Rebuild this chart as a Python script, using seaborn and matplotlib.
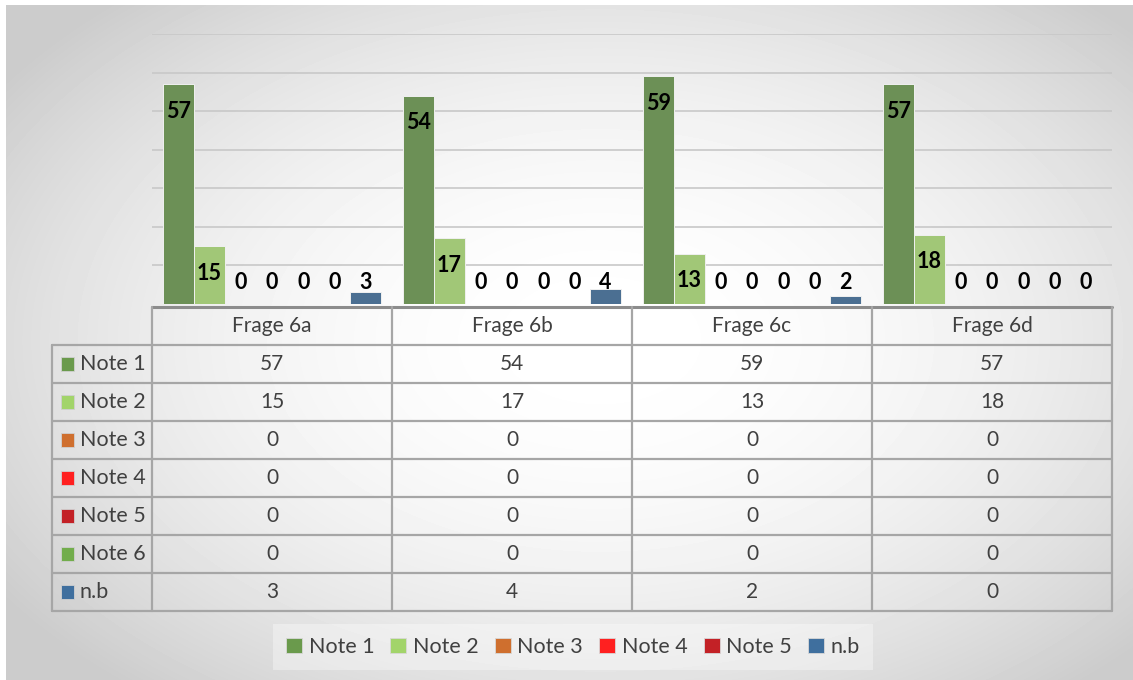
import numpy as np
import pandas as pd
import matplotlib.pyplot as plt
import seaborn as sns
from matplotlib.patches import Patch, Rectangle

questions = ['Frage 6a', 'Frage 6b', 'Frage 6c', 'Frage 6d']
series = ['Note 1', 'Note 2', 'Note 3', 'Note 4', 'Note 5', 'Note 6', 'n.b']
note1 = [57, 54, 59, 57]
note2 = [15, 17, 13, 18]
note3 = [0, 0, 0, 0]
note4 = [0, 0, 0, 0]
note5 = [0, 0, 0, 0]
note6 = [0, 0, 0, 0]
nb = [3, 4, 2, 0]
colors = ['#6a9a4c', '#a2d46a', '#cf6f2e', '#ff2020', '#c32126', '#72ad4c', '#3f6f9e']
legend_series = ['Note 1', 'Note 2', 'Note 3', 'Note 4', 'Note 5', 'n.b']

values = [note1, note2, note3, note4, note5, note6, nb]
df = pd.DataFrame([
    {'Frage': q, 'Note': s, 'Anzahl': v[i]}
    for s, v in zip(series, values) for i, q in enumerate(questions)
])

sns.set_style('white')
plt.rcParams['font.family'] = ['Lato', 'DejaVu Sans']

W, H = 1133, 680
fig = plt.figure(figsize=(W / 100, H / 100), dpi=100)
fig.patch.set_facecolor('white')


def box(x0, y0, x1, y1):
    return [x0 / W, 1 - y1 / H, (x1 - x0) / W, (y1 - y0) / H]


# radial grey background
bg = fig.add_axes(box(6, 5, W, H))
yy, xx = np.mgrid[5:H, 6:W]
r = np.sqrt(((xx - 600) / 600.0) ** 2 + ((yy - 340) / 380.0) ** 2)
shade = 1 - 0.2 * np.clip(r, 0, 1.2) ** 2 / 1.44
bg.imshow(shade, cmap='gray', vmin=0, vmax=1, aspect='auto')
bg.set_axis_off()

# bars
ax = fig.add_axes(box(152, 34, 1112, 304))
ax.patch.set_alpha(0)
sns.barplot(data=df, x='Frage', y='Anzahl', hue='Note', hue_order=series,
            palette=colors, width=0.91, gap=0, edgecolor='#f0f0f0',
            linewidth=0.7, ax=ax, legend=False, zorder=3)
ax.set_ylim(0, 70)
ax.set_xlim(-0.5, 3.5)
ax.set_yticks(range(10, 71, 10))
ax.yaxis.grid(True, color='#c8c8c8', linewidth=1.2)
ax.set_axisbelow(True)
ax.set_xticks([])
ax.set_yticklabels([])
ax.tick_params(left=False)
ax.set_xlabel('')
ax.set_ylabel('')
for sp in ax.spines.values():
    sp.set_visible(False)

for cont in ax.containers:
    for bar in cont:
        v = bar.get_height()
        ax.text(bar.get_x() + bar.get_width() / 2, max(v - 7, 5.7), f'{v:.0f}',
                ha='center', va='center', fontsize=15.5, fontweight='bold',
                color='black', zorder=4)

# data table
tb = fig.add_axes(box(52, 307, 1112, 611))
tb.patch.set_alpha(0)
left = -0.5 - 100 / 240
tb.set_xlim(left, 3.5)
tb.set_ylim(8, 0)
tb.set_axis_off()
lc = '#a6a6a6'
tb.plot([-0.5, 3.5], [0, 0], color='#8c8c8c', lw=2.2, clip_on=False)
for k in range(1, 9):
    tb.plot([left, 3.5], [k, k], color=lc, lw=1.6, clip_on=False)
for xv in [-0.5, 0.5, 1.5, 2.5, 3.5]:
    tb.plot([xv, xv], [0, 8], color=lc, lw=1.6, clip_on=False)
tb.plot([left, left], [1, 8], color=lc, lw=1.6, clip_on=False)

for i, q in enumerate(questions):
    tb.text(i, 0.5, q, ha='center', va='center', fontsize=15, color='#404040')
for j, (s, v, c) in enumerate(zip(series, values, colors)):
    row = j + 1.5
    tb.add_patch(Rectangle((left + 0.037, row - 0.18), 0.056, 0.36,
                           facecolor=c, edgecolor='#d0d0d0', lw=0.6))
    tb.text(left + 0.115, row, s, ha='left', va='center', fontsize=15.5, color='#404040')
    for i in range(len(questions)):
        tb.text(i, row, f'{v[i]}', ha='center', va='center', fontsize=15, color='#404040')

# legend (Note 6 is not listed in the original)
handles = [Patch(facecolor=colors[series.index(s)], edgecolor='#d8d8d8', lw=0.6, label=s)
           for s in legend_series]
leg = fig.legend(handles=handles, loc='center', bbox_to_anchor=(573 / W, 1 - 647 / H),
                 ncol=6, fontsize=15.5, handlelength=0.75, handleheight=0.75,
                 handletextpad=0.3, columnspacing=0.75, frameon=True, fancybox=False,
                 borderpad=0.6)
leg.get_frame().set_facecolor('white')
leg.get_frame().set_alpha(0.35)
leg.get_frame().set_edgecolor('none')
for t in leg.get_texts():
    t.set_color('#404040')

fig.savefig('out.png', dpi=100)
